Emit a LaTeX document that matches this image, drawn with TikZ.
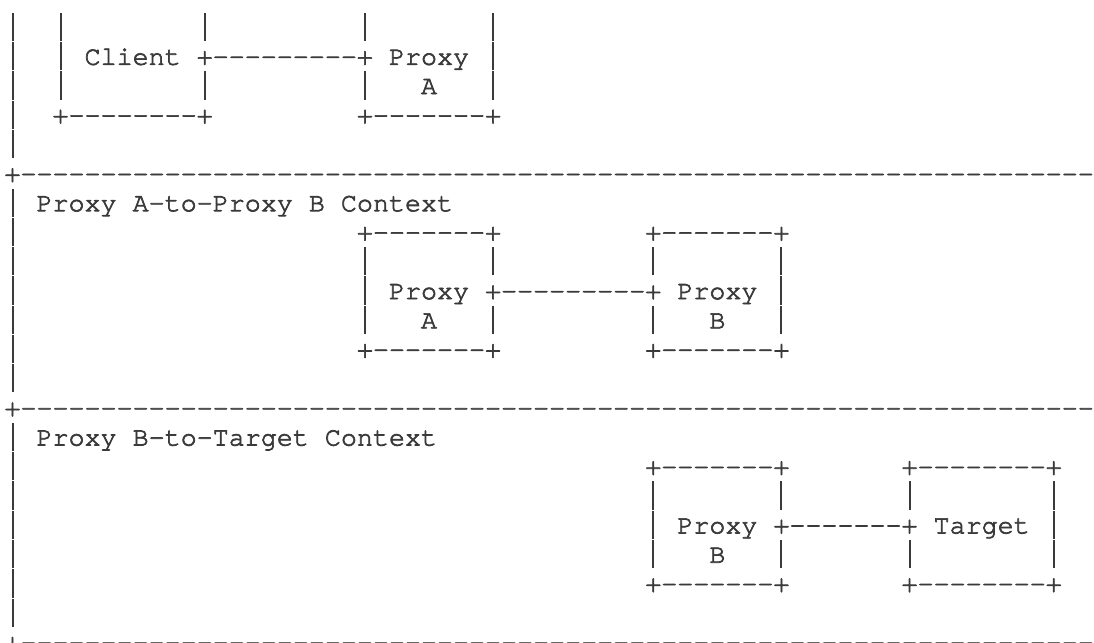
\documentclass[tikz,border=0pt]{standalone}
\usepackage{fontspec}
\setmonofont{texgyrecursor}[Extension=.otf, UprightFont=*-regular, UprightFeatures={FakeBold=2.5}]
\definecolor{ink}{HTML}{3A3A3A}
\newcommand\asciifont{\ttfamily\fontsize{13.35pt}{14pt}\selectfont}
\newcommand\sk[1]{\hspace*{#1\fontcharwd\font`x}}
% vertical bar of an ASCII box, as tall as one text row
\newcommand\vb{\makebox[\fontcharwd\font`x]{\rule[-2.75pt]{1pt}{14.1pt}}}
\tikzset{
  asc/.style={anchor=base west, inner sep=0pt, outer sep=0pt, font=\asciifont, text=ink},
}
\begin{document}
\begin{tikzpicture}[x=0.5pt,y=-0.5pt]
\fill[white] (0,0) rectangle (1094,643);
\useasboundingbox (0,0) rectangle (1094,643);
\def\bx{4.5}
\def\by{35.5}
\def\dy{29.29}
% section 1: Client / Proxy A
\node[asc] (r0)  at (\bx,{\by+\dy*0})  {\vb\sk{2}\vb\sk{8}\vb\sk{9}\vb\sk{7}\vb};
\node[asc] (r1)  at (\bx,{\by+\dy*1})  {\vb\sk{2}\vb\sk{1}Client\sk{1}+---------+\sk{1}Proxy\sk{1}\vb};
\node[asc] (r2)  at (\bx,{\by+\dy*2})  {\vb\sk{2}\vb\sk{8}\vb\sk{9}\vb\sk{3}A\sk{3}\vb};
\node[asc] (r3)  at (\bx,{\by+\dy*3})  {\vb\sk{2}+--------+\sk{9}+-------+};
\node[asc] (r4)  at (\bx,{\by+\dy*4})  {\vb};
\node[asc] (r5)  at (\bx,{\by+\dy*5})  {+-------------------------------------------------------------------};
% section 2: Proxy A-to-Proxy B
\node[asc] (r6)  at (\bx,{\by+\dy*6})  {\vb\sk{1}Proxy\sk{1}A-to-Proxy\sk{1}B\sk{1}Context};
\node[asc] (r7)  at (\bx,{\by+\dy*7})  {\vb\sk{21}+-------+\sk{9}+-------+};
\node[asc] (r8)  at (\bx,{\by+\dy*8})  {\vb\sk{21}\vb\sk{7}\vb\sk{9}\vb\sk{7}\vb};
\node[asc] (r9)  at (\bx,{\by+\dy*9})  {\vb\sk{21}\vb\sk{1}Proxy\sk{1}+---------+\sk{1}Proxy\sk{1}\vb};
\node[asc] (r10) at (\bx,{\by+\dy*10}) {\vb\sk{21}\vb\sk{3}A\sk{3}\vb\sk{9}\vb\sk{3}B\sk{3}\vb};
\node[asc] (r11) at (\bx,{\by+\dy*11}) {\vb\sk{21}+-------+\sk{9}+-------+};
\node[asc] (r12) at (\bx,{\by+\dy*12}) {\vb};
\node[asc] (r13) at (\bx,{\by+\dy*13}) {+-------------------------------------------------------------------};
% section 3: Proxy B-to-Target
\node[asc] (r14) at (\bx,{\by+\dy*14}) {\vb\sk{1}Proxy\sk{1}B-to-Target\sk{1}Context};
\node[asc] (r15) at (\bx,{\by+\dy*15}) {\vb\sk{39}+-------+\sk{7}+--------+};
\node[asc] (r16) at (\bx,{\by+\dy*16}) {\vb\sk{39}\vb\sk{7}\vb\sk{7}\vb\sk{8}\vb};
\node[asc] (r17) at (\bx,{\by+\dy*17}) {\vb\sk{39}\vb\sk{1}Proxy\sk{1}+-------+\sk{1}Target\sk{1}\vb};
\node[asc] (r18) at (\bx,{\by+\dy*18}) {\vb\sk{39}\vb\sk{3}B\sk{3}\vb\sk{7}\vb\sk{8}\vb};
\node[asc] (r19) at (\bx,{\by+\dy*19}) {\vb\sk{39}+-------+\sk{7}+--------+};
\node[asc] (r20) at (\bx,{\by+\dy*20}) {\vb};
\node[asc] (r21) at (\bx,{\by+\dy*21}) {+-------------------------------------------------------------------};
\end{tikzpicture}
\end{document}
